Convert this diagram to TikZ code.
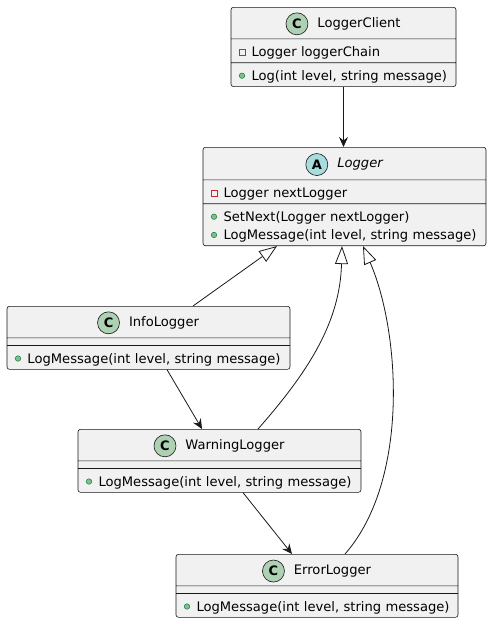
\documentclass[tikz,border=0pt]{standalone}
\usepackage{fontspec}
\setmainfont{DejaVu Sans}
\usepackage{pict2e}
\usetikzlibrary{arrows.meta,positioning,calc,shapes.multipart}
\definecolor{cBox}{HTML}{F1F1F1}
\definecolor{cLine}{HTML}{181818}
\definecolor{cClass}{HTML}{ADD1B2}
\definecolor{cAbs}{HTML}{A9DCDF}
\definecolor{cPubF}{HTML}{84BE84}
\definecolor{cPubB}{HTML}{038048}
\definecolor{cPriv}{HTML}{C82930}
\setlength\parindent{0pt}
\lineskiplimit=-\maxdimen
% one member line: marker + text
\newcommand\mstrut{\rule[-2.5pt]{0pt}{17pt}}
\newcommand\pub[1]{\mstrut{\unitlength=1pt\begin{picture}(12.5,0)
  \linethickness{0.5pt}\put(3,4.8){\color{cPubF}\circle*{5.5}}
  \put(3,4.8){\color{cPubB}\circle{5.5}}\end{picture}}\mbox{#1}}
\newcommand\priv[1]{\mstrut{\unitlength=1pt\begin{picture}(12.5,0)
  \linethickness{0.8pt}\color{cPriv}\polygon(0,1.8)(6,1.8)(6,7.8)(0,7.8)
  \end{picture}}\mbox{#1}}
\tikzset{
  cls/.style={rectangle split,rectangle split parts=3,draw=cLine,
              line width=0.6pt,fill=cBox,rounded corners=2.5pt,anchor=north,
              inner xsep=8pt,inner ysep=3pt,align=left,
              font=\fontsize{13.1}{15.5}\selectfont},
  cname/.style={inner sep=0pt,anchor=base,yshift=-4.5pt,
              font=\fontsize{13.1}{15.5}\selectfont},
  cicon/.style={circle,draw=cLine,line width=0.6pt,inner sep=0pt,
              minimum size=22pt,font=\fontsize{13}{13}\selectfont\bfseries},
  assoc/.style={-{Stealth[length=10pt,width=9pt,inset=3.5pt]},
              line width=0.8pt,cLine},
  inherit/.style={-{Triangle[length=18pt,width=13pt,fill=white]},
              line width=0.8pt,cLine},
}
\begin{document}
\begin{tikzpicture}[x=1pt,y=-1pt]
  \useasboundingbox (0,0) rectangle (491,624);

  \node[cls,text width=209pt] (client) at (343.5,7)
    {\rule{0pt}{25pt}\nodepart{two}\priv{Logger loggerChain}%
     \nodepart{three}\pub{Log(int level, string message)}};
  \node[cls,text width=267pt] (logger) at (344.5,147)
    {\rule{0pt}{26pt}\nodepart{two}\priv{Logger nextLogger}%
     \nodepart{three}\pub{SetNext(Logger nextLogger)}\\
     \pub{LogMessage(int level, string message)}};
  \node[cls,text width=267pt] (info) at (148.5,306)
    {\rule{0pt}{25pt}\nodepart{two}\rule{0pt}{1pt}%
     \nodepart{three}\pub{LogMessage(int level, string message)}};
  \node[cls,text width=267pt] (warn) at (219.5,429)
    {\rule{0pt}{25pt}\nodepart{two}\rule{0pt}{1pt}%
     \nodepart{three}\pub{LogMessage(int level, string message)}};
  \node[cls,text width=266pt] (error) at (317,554)
    {\rule{0pt}{25pt}\nodepart{two}\rule{0pt}{1pt}%
     \nodepart{three}\pub{LogMessage(int level, string message)}};

  % class headers
  \coordinate (clientH) at ($(client.north)!.5!(client.text split)$);
  \coordinate (loggerH) at ($(logger.north)!.5!(logger.text split)$);
  \coordinate (infoH) at ($(info.north)!.5!(info.text split)$);
  \coordinate (warnH) at ($(warn.north)!.5!(warn.text split)$);
  \coordinate (errorH) at ($(error.north)!.5!(error.text split)$);
  \node[cname] (clientN) at ([xshift=15.5pt]clientH) {LoggerClient};
  \node[cname] (loggerN) at ([xshift=15.5pt]loggerH) {\itshape Logger};
  \node[cname] (infoN) at ([xshift=15.5pt]infoH) {InfoLogger};
  \node[cname] (warnN) at ([xshift=15.5pt]warnH) {WarningLogger};
  \node[cname] (errorN) at ([xshift=15.5pt]errorH) {ErrorLogger};
  \node[cicon,fill=cClass,left=9pt of clientN] (clientC) {C};
  \node[cicon,fill=cAbs,left=9pt of loggerN] (loggerA) {A};
  \node[cicon,fill=cClass,left=9pt of infoN] (infoC) {C};
  \node[cicon,fill=cClass,left=9pt of warnN] (warnC) {C};
  \node[cicon,fill=cClass,left=9pt of errorN] (errorC) {C};

  % links
  \draw[assoc] (client.south) -- (client.south |- logger.north);
  \draw[inherit] ([xshift=44.5pt]info.north) -- ([xshift=-67.5pt]logger.south);
  \draw[inherit] ([xshift=38.5pt]warn.north) .. controls +(52,-59) and +(-2,75)
    .. ([xshift=-2.5pt]logger.south);
  \draw[inherit] ([xshift=28pt]error.north) .. controls +(65,-74) and +(37,85)
    .. ([xshift=18.5pt]logger.south);
  \draw[assoc] ([xshift=18.5pt]info.south) -- ([xshift=-17.5pt]warn.north);
  \draw[assoc] ([xshift=23.5pt]warn.south) -- ([xshift=-25pt]error.north);
\end{tikzpicture}
\end{document}
